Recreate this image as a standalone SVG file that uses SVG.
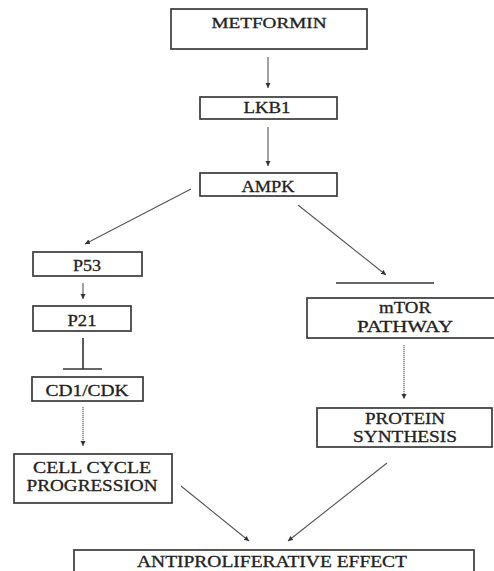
<svg xmlns="http://www.w3.org/2000/svg" width="494" height="571" viewBox="0 0 494 571">
<style>
  .box { fill: #ffffff; stroke: #3a3a3a; stroke-width: 1.7; }
  .lbl { font-family: "Liberation Serif", "Times New Roman", serif; font-size: 16px; fill: #222222; stroke: #222222; stroke-width: 0.3; text-anchor: middle; }
  .conn { stroke: #555555; stroke-width: 1.1; fill: none; }
  .dot { stroke-dasharray: 1.2 0.8; }
  .bar { stroke: #333333; stroke-width: 1.6; }
</style>
<defs>
  <marker id="ah" markerUnits="userSpaceOnUse" markerWidth="8" markerHeight="8" refX="5" refY="3" orient="auto">
    <path d="M0,0.5 L5,3 L0,5.5 Z" fill="#333333"/>
  </marker>
</defs>
<rect width="494" height="571" fill="#ffffff"/>

<g id="connectors">
  <line class="conn" x1="268" y1="57" x2="268" y2="88" marker-end="url(#ah)"/>
  <line class="conn" x1="268" y1="127" x2="268" y2="166" marker-end="url(#ah)"/>
  <line class="conn" x1="191" y1="189" x2="85" y2="244" marker-end="url(#ah)"/>
  <line class="conn" x1="298" y1="205" x2="386" y2="275" marker-end="url(#ah)"/>
  <line class="bar" x1="336" y1="283" x2="434" y2="283"/>
  <line class="conn" x1="83" y1="283" x2="83" y2="299" marker-end="url(#ah)"/>
  <line class="bar" x1="83" y1="338" x2="83" y2="369"/>
  <line class="bar" x1="63" y1="369" x2="102" y2="369"/>
  <line class="conn dot" x1="83" y1="407" x2="83" y2="446" marker-end="url(#ah)"/>
  <line class="conn dot" x1="404" y1="345" x2="404" y2="399" marker-end="url(#ah)"/>
  <line class="conn" x1="181" y1="486" x2="249" y2="541" marker-end="url(#ah)"/>
  <line class="conn" x1="387" y1="463" x2="288" y2="541" marker-end="url(#ah)"/>
</g>

<g id="metformin">
  <rect class="box" x="171" y="9" width="196" height="40"/>
  <text class="lbl" x="269" y="28" textLength="115" lengthAdjust="spacingAndGlyphs" style="font-size:15px">METFORMIN</text>
</g>
<g id="lkb1">
  <rect class="box" x="200" y="97" width="137" height="22"/>
  <text class="lbl" x="267" y="113" textLength="47" lengthAdjust="spacingAndGlyphs">LKB1</text>
</g>
<g id="ampk">
  <rect class="box" x="200" y="173" width="137" height="23"/>
  <text class="lbl" x="268" y="192" textLength="53" lengthAdjust="spacingAndGlyphs">AMPK</text>
</g>
<g id="p53">
  <rect class="box" x="33" y="252" width="109" height="24"/>
  <text class="lbl" x="87" y="271" textLength="28" lengthAdjust="spacingAndGlyphs">P53</text>
</g>
<g id="p21">
  <rect class="box" x="33" y="306" width="98" height="25"/>
  <text class="lbl" x="82" y="326" textLength="29" lengthAdjust="spacingAndGlyphs">P21</text>
</g>
<g id="cd1cdk">
  <rect class="box" x="32" y="377" width="111" height="24"/>
  <text class="lbl" x="87" y="396" textLength="83" lengthAdjust="spacingAndGlyphs">CD1/CDK</text>
</g>
<g id="cellcycle">
  <rect class="box" x="14" y="454" width="158" height="49"/>
  <text class="lbl" x="92" y="473" textLength="118" lengthAdjust="spacingAndGlyphs">CELL CYCLE</text>
  <text class="lbl" x="92" y="491" textLength="131" lengthAdjust="spacingAndGlyphs">PROGRESSION</text>
</g>
<g id="mtor">
  <rect class="box" x="307" y="298" width="200" height="40"/>
  <text class="lbl" x="405" y="313" textLength="52" lengthAdjust="spacingAndGlyphs">mTOR</text>
  <text class="lbl" x="405" y="332" textLength="96" lengthAdjust="spacingAndGlyphs">PATHWAY</text>
</g>
<g id="protein">
  <rect class="box" x="317" y="408" width="175" height="39"/>
  <text class="lbl" x="405" y="424" textLength="80" lengthAdjust="spacingAndGlyphs">PROTEIN</text>
  <text class="lbl" x="405" y="442" textLength="104" lengthAdjust="spacingAndGlyphs">SYNTHESIS</text>
</g>
<g id="antiproliferative">
  <rect class="box" x="74" y="550" width="400" height="30"/>
  <text class="lbl" x="272" y="567" textLength="270" lengthAdjust="spacingAndGlyphs">ANTIPROLIFERATIVE EFFECT</text>
</g>
</svg>
